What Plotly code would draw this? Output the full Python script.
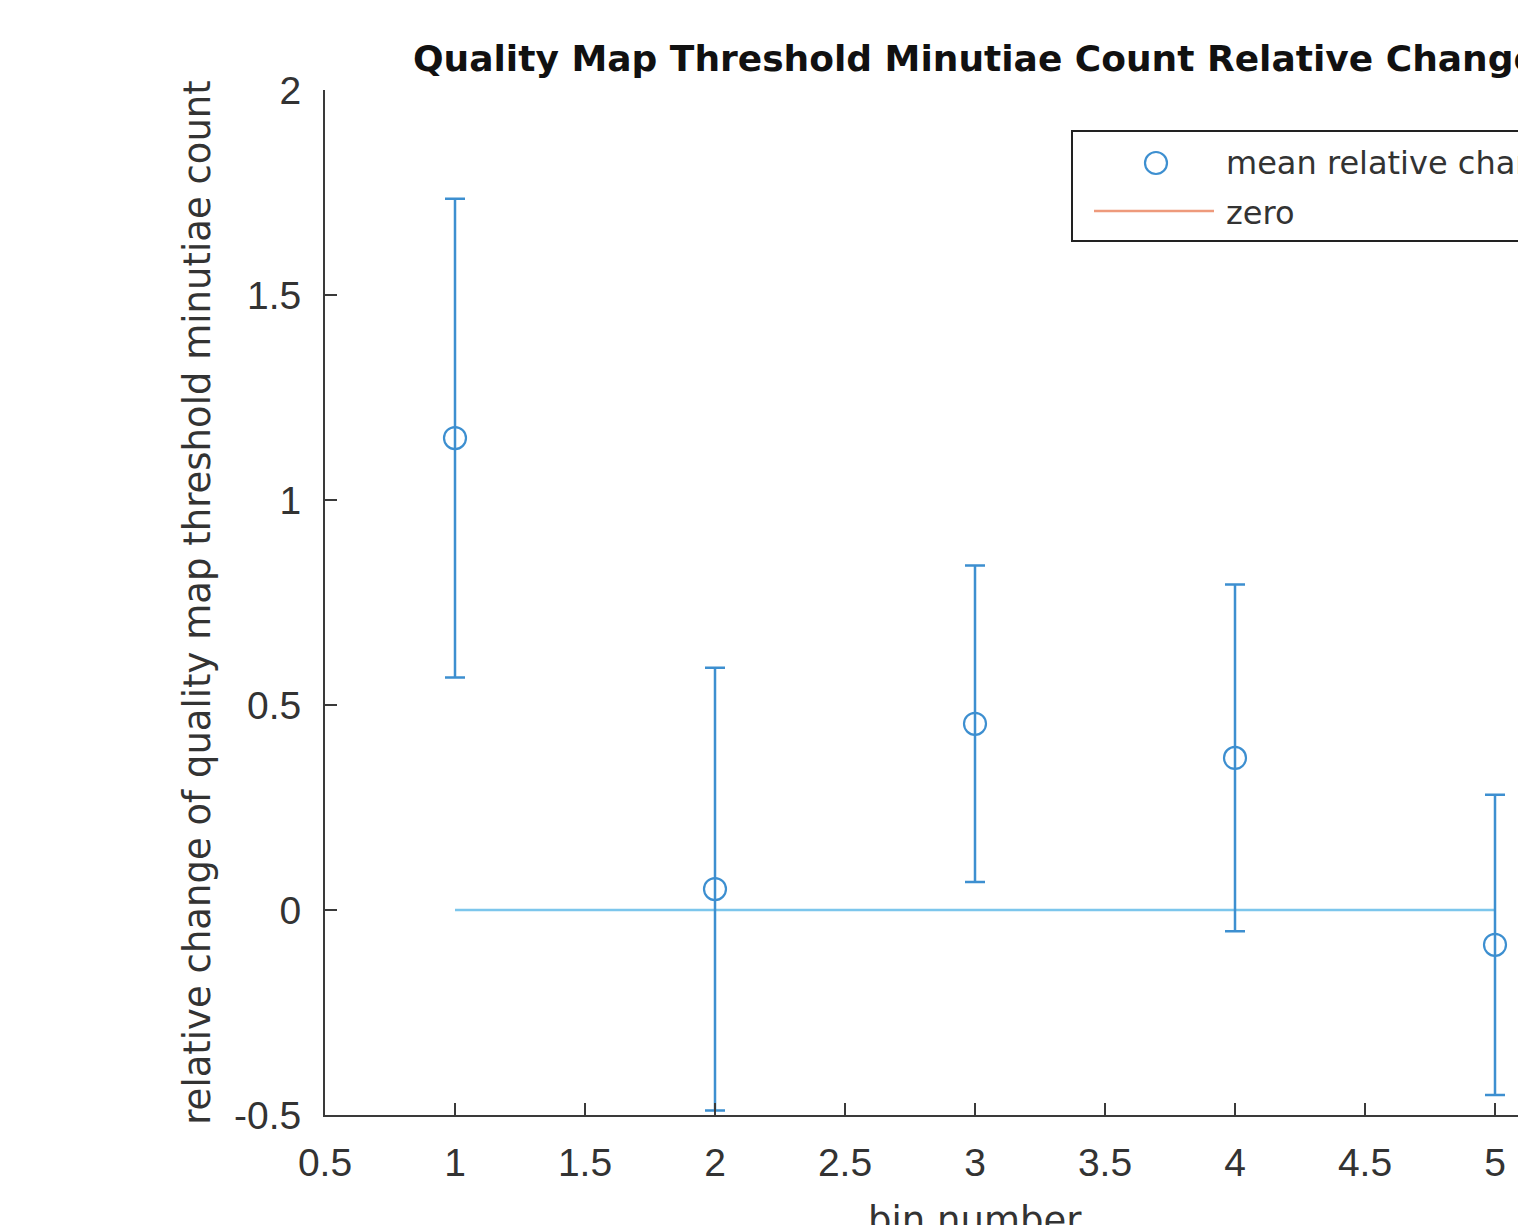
import plotly.graph_objects as go

bins = [1, 2, 3, 4, 5]
mean_change = [1.151, 0.051, 0.454, 0.371, -0.085]
err = [0.584, 0.540, 0.386, 0.423, 0.366]
zero_x = [1, 2, 3, 4, 5]
zero_y = [0, 0, 0, 0, 0]
yticks = [-0.5, 0, 0.5, 1, 1.5, 2]
xticks = [0.5, 1, 1.5, 2, 2.5, 3, 3.5, 4, 4.5, 5]

OFF = 8  # page body margin
W, H = 1526 - OFF, 1225 - OFF
L, T = 325 - OFF, 90 - OFF
B = H - (1115 - OFF)
pw = W - L
ph = H - T - B

FONT = "Liberation Sans, Arial, sans-serif"
WIDE = "DejaVu Sans, sans-serif"
AX = "#3a3a3a"
BLUE = "#3d8fd0"
LIGHT = "#7cc6ec"
ORANGE = "#ee9a7c"

fig = go.Figure()
fig.add_trace(go.Scatter(x=zero_x, y=zero_y, mode="lines",
                         line=dict(color=LIGHT, width=2.5), showlegend=False))
fig.add_trace(go.Scatter(
    x=bins, y=mean_change, mode="markers",
    marker=dict(symbol="circle-open", size=22, color=BLUE, line=dict(width=2.2, color=BLUE)),
    error_y=dict(type="data", array=err, symmetric=True, color=BLUE, thickness=2.5, width=10),
    showlegend=False))

xmax = 0.5 + pw / 260.0
fig.update_xaxes(range=[0.5, xmax], tickvals=xticks, ticktext=[f"{v:g}" for v in xticks],
                 ticks="inside", ticklen=12, tickwidth=2, tickcolor=AX,
                 showline=True, linecolor=AX, linewidth=2, showgrid=False, zeroline=False,
                 tickfont=dict(family=FONT, size=39, color="#333333"), ticklabelstandoff=12)
fig.update_yaxes(range=[-0.5, 2], tickvals=yticks, ticktext=[f"{v:g}" for v in yticks],
                 ticks="inside", ticklen=12, tickwidth=2, tickcolor=AX,
                 showline=True, linecolor=AX, linewidth=2, showgrid=False, zeroline=False,
                 tickfont=dict(family=FONT, size=39, color="#333333"), ticklabelstandoff=14,
                 title=dict(text="relative change of quality map threshold minutiae count",
                            font=dict(family=WIDE, size=37, color="#333333"), standoff=12))

def px(xp):  # page pixel -> paper x
    return (xp - OFF - L) / pw

def py(yp):  # page pixel -> paper y
    return (H - B - (yp - OFF)) / ph

shapes = [
    dict(type="rect", xref="paper", yref="paper", x0=px(1072), x1=px(1600), y0=py(241), y1=py(131),
         line=dict(color="#222222", width=2), fillcolor="white", layer="above"),
    dict(type="line", xref="paper", yref="paper", x0=px(1094), x1=px(1214), y0=py(211), y1=py(211),
         line=dict(color=ORANGE, width=2.5), layer="above"),
    dict(type="circle", xref="paper", yref="paper", xsizemode="pixel", ysizemode="pixel",
         xanchor=px(1156), yanchor=py(163), x0=-11, x1=11, y0=-11, y1=11,
         line=dict(color=BLUE, width=2.2), layer="above"),
]

annotations = [
    dict(text="<b>Quality Map Threshold Minutiae Count Relative Change</b>", xref="x", yref="paper",
         x=3, y=py(59), xanchor="center", yanchor="middle", showarrow=False,
         font=dict(family=WIDE, size=36, color="#111111")),
    dict(text="bin number", xref="x", yref="paper", x=3, y=py(1197), xanchor="center", yanchor="top",
         showarrow=False, font=dict(family=WIDE, size=37, color="#333333")),
    dict(text="mean relative change", xref="paper", yref="paper", x=px(1224), y=py(163),
         xanchor="left", yanchor="middle", showarrow=False,
         font=dict(family=WIDE, size=32, color="#333333")),
    dict(text="zero", xref="paper", yref="paper", x=px(1224), y=py(213),
         xanchor="left", yanchor="middle", showarrow=False,
         font=dict(family=WIDE, size=32, color="#333333")),
]

fig.update_layout(width=W, height=H, margin=dict(l=L, r=0, t=T, b=B, autoexpand=False),
                  plot_bgcolor="white", paper_bgcolor="white",
                  shapes=shapes, annotations=annotations)
fig.write_html("out.html")
